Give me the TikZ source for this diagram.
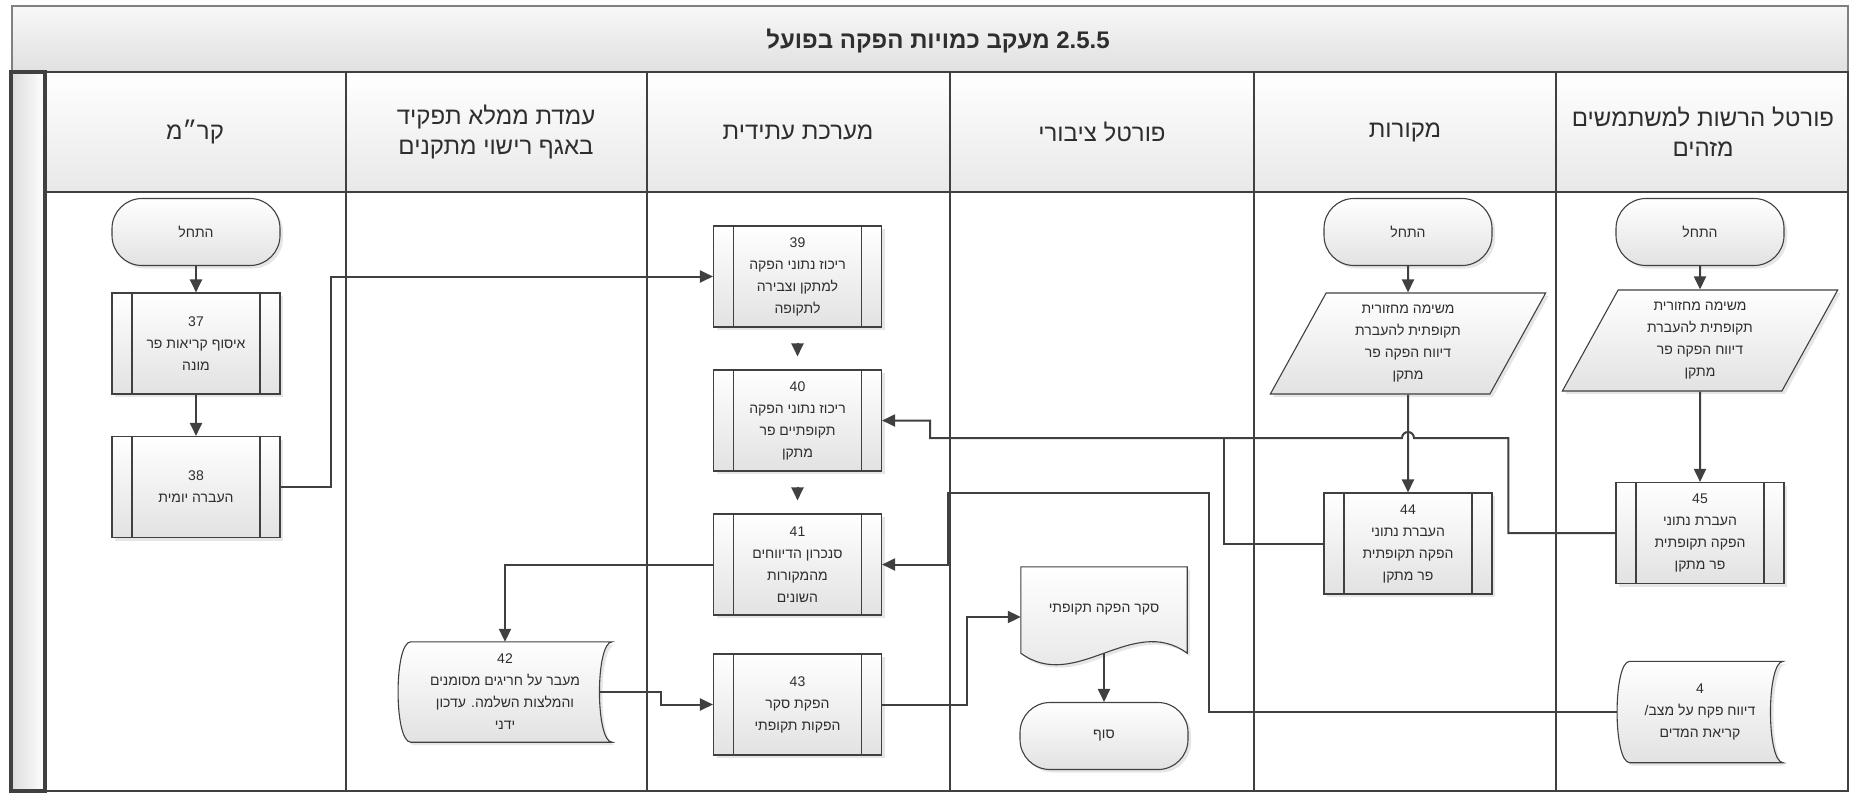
\documentclass[tikz,border=0pt]{standalone}
\usepackage{fontspec}
\setmainfont{Liberation Sans}
\newfontfamily\hebfont[Script=Hebrew]{Liberation Sans}
\usetikzlibrary{arrows.meta,shapes.geometric,shadows,backgrounds}
\TeXXeTstate=1
\newcommand{\heb}[1]{{\hebfont\beginR #1\endR}}
\definecolor{linec}{HTML}{404040}
\definecolor{framec}{HTML}{808080}
\definecolor{fillc}{HTML}{E2E2E2}
\definecolor{textc}{HTML}{2E2E2E}
\begin{document}
\begin{tikzpicture}[x=1pt,y=-1pt,>={Triangle[length=13pt,width=12pt]},
	every node/.style={text=textc,font=\fontsize{14}{22}\selectfont},
	shp/.style={draw=linec,line width=1.1pt,top color=white,bottom color=fillc,drop shadow={opacity=0.2,shadow xshift=3pt,shadow yshift=-3pt}},
	term/.style={shp,rectangle,rounded corners=30pt,minimum width=168pt,minimum height=67pt},
	proc/.style={shp,rectangle,minimum width=168pt,minimum height=101pt,inner sep=2pt,align=center,
		path picture={\draw[linec,line width=1.1pt] ([xshift=20pt]path picture bounding box.north west) -- ([xshift=20pt]path picture bounding box.south west) ([xshift=-20pt]path picture bounding box.north east) -- ([xshift=-20pt]path picture bounding box.south east);}},
	para/.style={shp,trapezium,trapezium left angle=65,trapezium right angle=115,trapezium stretches=true,minimum width=276pt,minimum height=101pt,inner sep=0pt,align=center},
	free/.style={align=center,inner sep=0pt},
	conn/.style={draw=linec,line width=2pt},
	lane/.style={draw=linec,line width=1.2pt},
	head/.style={font=\fontsize{24}{30}\selectfont,align=center}]
	\useasboundingbox (0,0) rectangle (1851,793);
	\draw[framec,line width=1.5pt,top color=white!97!black,bottom color=white!88!black] (12,6) rectangle (1848,72);
	\node[font=\bfseries\fontsize{24}{28}\selectfont] (title) at (938,41) {\heb{\beginL 2.5.5\endL{} מעקב כמויות הפקה בפועל}};
	\draw[lane,top color=white,bottom color=white!91!black] (45,72) rectangle (1848,192);
	\draw[lane] (45,192) rectangle (1848,791);
	\foreach \x in {346,647,950,1254,1556} \draw[lane] (\x,72) -- (\x,791);
	\draw[linec,line width=4pt,left color=white!86!black,right color=white] (11,72) rectangle (45,791);
	\node[head] (h1) at (195,132) {\heb{קר״מ}};
	\node[head] (h2) at (496,132) {\heb{עמדת ממלא תפקיד}\\\heb{באגף רישוי מתקנים}};
	\node[head] (h3) at (798,132) {\heb{מערכת עתידית}};
	\node[head] (h4) at (1102,132) {\heb{פורטל ציבורי}};
	\node[head] (h5) at (1405,132) {\heb{מקורות}};
	\node[head] (h6) at (1703,132) {\heb{פורטל הרשות למשתמשים}\\\heb{מזהים}};
	\node[term] (s1) at (196,232) {\heb{התחל}};
	\node[proc] (p37) at (196,343.5) {37\\\heb{איסוף קריאות פר}\\\heb{מונה}};
	\node[proc] (p38) at (196,487) {38\\\heb{העברה יומית}};
	\node[proc] (p39) at (797.5,276.5) {39\\\heb{ריכוז נתוני הפקה}\\\heb{למתקן וצבירה}\\\heb{לתקופה}};
	\node[proc] (p40) at (797.5,420.5) {40\\\heb{ריכוז נתוני הפקה}\\\heb{תקופתיים פר}\\\heb{מתקן}};
	\node[proc] (p41) at (797.5,564.5) {41\\\heb{סנכרון הדיווחים}\\\heb{מהמקורות}\\\heb{השונים}};
	\node[proc] (p43) at (797.5,704.5) {43\\\heb{הפקת סקר}\\\heb{הפקות תקופתי}};
	\node[free,minimum width=214pt,minimum height=100pt] (d42) at (505,692) {42\\\heb{מעבר על חריגים מסומנים}\\\heb{והמלצות השלמה. עדכון}\\\heb{ידני}};
	\node[free,minimum width=166pt,minimum height=86pt] (doc) at (1104,610) {\heb{סקר הפקה תקופתי}};
	\node[term] (end) at (1104,736) {\heb{סוף}};
	\node[term] (s5) at (1408,232) {\heb{התחל}};
	\node[para] (m5) at (1408,343.5) {\heb{משימה מחזורית}\\\heb{תקופתית להעברת}\\\heb{דיווח הפקה פר}\\\heb{מתקן}};
	\node[proc] (p44) at (1408,543.5) {44\\\heb{העברת נתוני}\\\heb{הפקה תקופתית}\\\heb{פר מתקן}};
	\node[term] (s6) at (1700,232) {\heb{התחל}};
	\node[para] (m6) at (1700,340.5) {\heb{משימה מחזורית}\\\heb{תקופתית להעברת}\\\heb{דיווח הפקה פר}\\\heb{מתקן}};
	\node[proc] (p45) at (1700,533) {45\\\heb{העברת נתוני}\\\heb{הפקה תקופתית}\\\heb{פר מתקן}};
	\node[free,minimum width=166pt,minimum height=101pt] (d4) at (1700,712) {4\\\heb{דיווח פקח על מצב/}\\\heb{קריאת המדים}};
	\begin{scope}[on background layer]
		\draw[shp] ([xshift=13pt]d42.north west) -- (d42.north east) .. controls ([xshift=-17pt]d42.north east) and ([xshift=-17pt]d42.south east) .. (d42.south east) -- ([xshift=13pt]d42.south west) .. controls ([xshift=-4pt]d42.south west) and ([xshift=-4pt]d42.north west) .. ([xshift=13pt]d42.north west) -- cycle;
		\draw[shp] ([xshift=13pt]d4.north west) -- (d4.north east) .. controls ([xshift=-17pt]d4.north east) and ([xshift=-17pt]d4.south east) .. (d4.south east) -- ([xshift=13pt]d4.south west) .. controls ([xshift=-4pt]d4.south west) and ([xshift=-4pt]d4.north west) .. ([xshift=13pt]d4.north west) -- cycle;
		\draw[shp] (doc.south west) -- (doc.north west) -- (doc.north east) -- (doc.south east) .. controls ([xshift=-55pt,yshift=40pt]doc.south east) and ([xshift=55pt,yshift=-40pt]doc.south west) .. (doc.south west) -- cycle;
	\end{scope}
	\draw[conn,->] (s1) -- (p37);
	\draw[conn,->] (p37) -- (p38);
	\draw[conn,->] (p38.east) -- ++(50,0) |- (p39.west);
	\draw[conn,->,shorten <=15pt,shorten >=13pt] (p39) -- (p40);
	\draw[conn,->,shorten <=15pt,shorten >=13pt] (p40) -- (p41);
	\draw[conn,->] (p41.west) -| (d42.north);
	\draw[conn,->] ([xshift=-13pt]d42.east) -- ++(62,0) |- (p43.west);
	\draw[conn,->] (p43.east) -- ++(85,0) |- ([yshift=-7pt]doc.west);
	\draw[conn,->] (doc.south) -- (end);
	\draw[conn,->] (s5) -- (m5);
	\draw[conn,->] (m5) -- (p44);
	\draw[conn,->] (s6) -- (m6);
	\draw[conn,->] (m6) -- (p45);
	\coordinate (jmp) at (1408,438);
	\draw[conn,->] (p45.west) -- ++(-107,0) |- ([xshift=6pt]jmp) arc (0:180:6pt) -- ([xshift=48pt]p40.east |- jmp) |- (p40.east);
	\draw[conn] (p44.west) -- ++(-99,0) -- ++(0,-105);
	\draw[conn,->] (d4.west) -- ++(-408,0) -- ++(0,-219) -| ([xshift=66pt]p41.east) -- (p41.east);
\end{tikzpicture}
\end{document}
